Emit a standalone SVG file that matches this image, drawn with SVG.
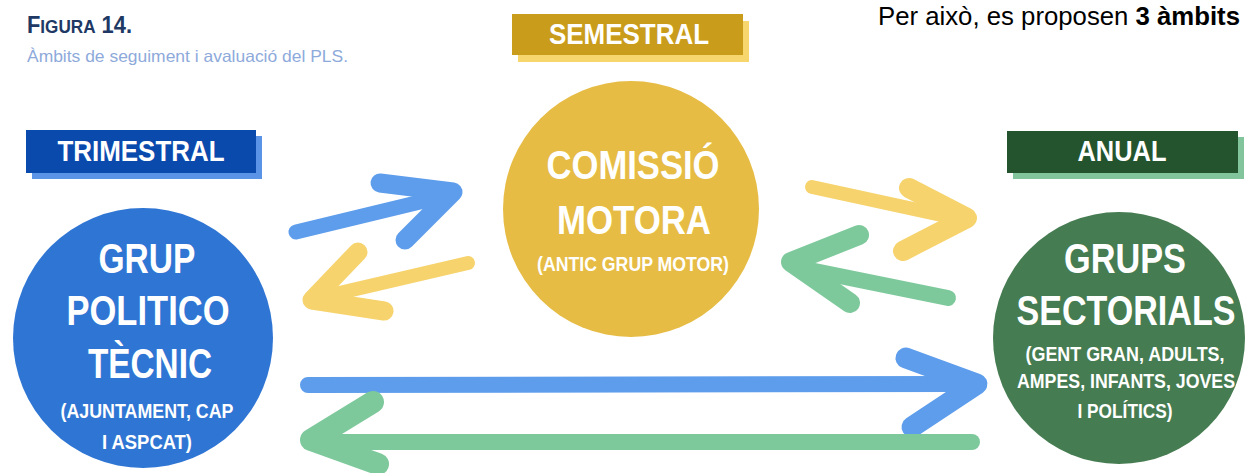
<svg xmlns="http://www.w3.org/2000/svg" width="1245" height="473" viewBox="0 0 1245 473">
<style>
.t{font-family:"Liberation Sans",Arial,sans-serif;font-weight:bold;fill:#fff;text-anchor:middle}
.arr{fill:none;stroke-linecap:round;stroke-linejoin:round}
.ab{stroke:#5d9dec}
.ay{stroke:#f6d36c}
.ag{stroke:#7ec99c}
</style>
<rect width="1245" height="473" fill="#fff"/>
<text x="27" y="33" font-family="'Liberation Sans',Arial,sans-serif" font-weight="bold" fill="#203864" textLength="105" lengthAdjust="spacingAndGlyphs"><tspan font-size="23">F</tspan><tspan font-size="18">IGURA</tspan><tspan font-size="23"> 14.</tspan></text>
<text x="27" y="62" font-family="'Liberation Sans',Arial,sans-serif" font-size="16.5" fill="#8eaadb" textLength="321" lengthAdjust="spacingAndGlyphs">Àmbits de seguiment i avaluació del PLS.</text>
<text x="878" y="25" font-family="'Liberation Sans',Arial,sans-serif" font-size="26.5" fill="#000" textLength="362" lengthAdjust="spacingAndGlyphs">Per això, es proposen <tspan font-weight="bold">3 àmbits</tspan></text>

<g id="connectors">
<path class="arr ab" stroke-width="15" d="M296,232 L445,196"/>
<path class="arr ab" stroke-width="19" d="M380,183 L453,192 L405,240"/>
<path class="arr ay" stroke-width="14" d="M468,263 L322,297"/>
<path class="arr ay" stroke-width="19" d="M358,252 L312,300 L384,311"/>
<path class="arr ay" stroke-width="14" d="M812,187 L955,218"/>
<path class="arr ay" stroke-width="20" d="M909,188 L967,218 L903,251"/>
<path class="arr ag" stroke-width="16" d="M948,298 L800,268"/>
<path class="arr ag" stroke-width="20" d="M859,235 L791,262 L850,303"/>
<path class="arr ab" stroke-width="16" d="M308,385 L960,384"/>
<path class="arr ab" stroke-width="21" d="M906,358 L977,384 L912,427"/>
<path class="arr ag" stroke-width="16" d="M972,442 L330,442"/>
<path class="arr ag" stroke-width="22" d="M373,402 L311,440 L378,464"/>
</g>

<g id="label-trimestral">
<rect x="32" y="136" width="230" height="43" fill="#5b94e6"/>
<rect x="26" y="130" width="230" height="43" fill="#0b4aad"/>
<text class="t" x="141" y="161" font-size="30" textLength="167" lengthAdjust="spacingAndGlyphs">TRIMESTRAL</text>
</g>
<g id="label-semestral">
<rect x="518" y="21" width="231" height="41" fill="#f7d66e"/>
<rect x="512" y="14" width="231" height="41" fill="#c99c1b"/>
<text class="t" x="629" y="44" font-size="30" textLength="160" lengthAdjust="spacingAndGlyphs">SEMESTRAL</text>
</g>
<g id="label-anual">
<rect x="1013" y="137" width="231" height="42" fill="#82c49b"/>
<rect x="1007" y="131" width="231" height="42" fill="#24542e"/>
<text class="t" x="1122" y="161" font-size="30" textLength="89" lengthAdjust="spacingAndGlyphs">ANUAL</text>
</g>

<g id="node-grup-politico-tecnic">
<circle cx="143" cy="338" r="130" fill="#2f75d3"/>
<text class="t" x="147" y="273" font-size="42" textLength="97" lengthAdjust="spacingAndGlyphs">GRUP</text>
<text class="t" x="148" y="325" font-size="42" textLength="163" lengthAdjust="spacingAndGlyphs">POLITICO</text>
<text class="t" x="150" y="378" font-size="42" textLength="124" lengthAdjust="spacingAndGlyphs">TÈCNIC</text>
<text class="t" x="147" y="418" font-size="21" textLength="173" lengthAdjust="spacingAndGlyphs">(AJUNTAMENT, CAP</text>
<text class="t" x="147" y="449" font-size="21" textLength="90" lengthAdjust="spacingAndGlyphs">I ASPCAT)</text>
</g>

<g id="node-comissio-motora">
<circle cx="631" cy="209" r="128" fill="#e6bc45"/>
<text class="t" x="633" y="179" font-size="40" textLength="173" lengthAdjust="spacingAndGlyphs">COMISSIÓ</text>
<text class="t" x="634" y="234" font-size="40" textLength="154" lengthAdjust="spacingAndGlyphs">MOTORA</text>
<text class="t" x="633" y="271" font-size="21" textLength="192" lengthAdjust="spacingAndGlyphs">(ANTIC GRUP MOTOR)</text>
</g>

<g id="node-grups-sectorials">
<circle cx="1119" cy="338" r="126" fill="#467c51"/>
<text class="t" x="1125" y="273" font-size="42" textLength="122" lengthAdjust="spacingAndGlyphs">GRUPS</text>
<text class="t" x="1126" y="325" font-size="42" textLength="219" lengthAdjust="spacingAndGlyphs">SECTORIALS</text>
<text class="t" x="1125" y="361" font-size="20" textLength="199" lengthAdjust="spacingAndGlyphs">(GENT GRAN, ADULTS,</text>
<text class="t" x="1126" y="388" font-size="20" textLength="218" lengthAdjust="spacingAndGlyphs">AMPES, INFANTS, JOVES</text>
<text class="t" x="1125" y="418" font-size="20" textLength="95" lengthAdjust="spacingAndGlyphs">I POLÍTICS)</text>
</g>
</svg>
